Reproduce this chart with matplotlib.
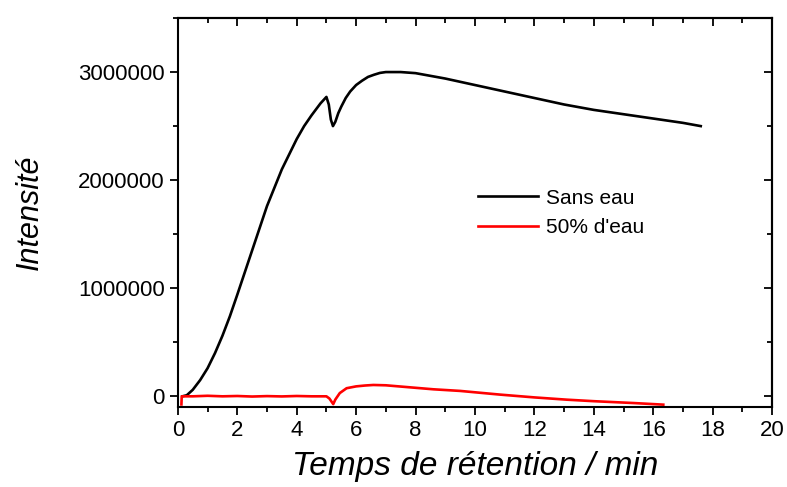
import matplotlib.pyplot as plt
from matplotlib.ticker import MultipleLocator

# Courbe noire : sans eau
t_sans = [0.15, 0.3, 0.5, 0.75, 1.0, 1.25, 1.5, 1.75, 2.0, 2.5, 3.0, 3.5, 4.0,
          4.25, 4.5, 4.8, 5.0, 5.08, 5.15, 5.22, 5.3, 5.4, 5.5, 5.65, 5.8, 6.0,
          6.2, 6.4, 6.6, 6.8, 7.0, 7.5, 8.0, 9.0, 10.0, 11.0, 12.0, 13.0, 14.0,
          15.0, 16.0, 17.0, 17.6]
i_sans = [0, 10000, 60000, 150000, 260000, 400000, 560000, 740000, 940000,
          1350000, 1760000, 2100000, 2380000, 2500000, 2600000, 2710000, 2770000,
          2700000, 2560000, 2500000, 2540000, 2620000, 2680000, 2760000, 2820000,
          2880000, 2920000, 2955000, 2975000, 2992000, 3000000, 3000000, 2990000,
          2940000, 2880000, 2820000, 2760000, 2700000, 2650000, 2610000, 2570000,
          2530000, 2500000]

# Courbe rouge : 50% d'eau
t_eau = [0.12, 0.13, 0.5, 1.0, 1.5, 2.0, 2.5, 3.0, 3.5, 4.0, 4.5, 5.0, 5.1, 5.23,
         5.3, 5.45, 5.68, 6.0, 6.3, 6.58, 7.0, 8.6, 9.5, 10.84, 12.0, 13.09, 14.0,
         15.33, 16.34]
i_eau = [-75000, 0, 0, 5000, 0, 3000, -2000, 2000, -1000, 3000, 0, 0, -20000,
         -72000, -30000, 30000, 75000, 92000, 100000, 105000, 102000, 65000, 50000,
         16000, -10000, -31000, -45000, -62000, -77000]

fig = plt.figure(figsize=(7.87, 4.87), dpi=100)
ax = fig.add_axes([0.226, 0.164, 0.755, 0.799])

ax.plot(t_sans, i_sans, color='black', lw=1.9, label='Sans eau')
ax.plot(t_eau, i_eau, color='red', lw=1.9, label="50% d'eau")

ax.set_xlim(0, 20)
ax.set_ylim(-100000, 3500000)
ax.xaxis.set_major_locator(MultipleLocator(2))
ax.xaxis.set_minor_locator(MultipleLocator(1))
ax.yaxis.set_major_locator(MultipleLocator(1000000))
ax.yaxis.set_minor_locator(MultipleLocator(500000))
ax.ticklabel_format(axis='y', style='plain', useOffset=False)

ax.tick_params(which='both', direction='out', top=False, right=False,
               labelsize=16, width=1.3, colors='black')
ax.tick_params(which='major', length=6)
ax.tick_params(which='minor', length=3.6)
for tl in ax.get_xticklabels() + ax.get_yticklabels():
    tl.set_fontfamily('Liberation Sans')

# graduations intérieures en haut et à droite
ax_top = ax.secondary_xaxis('top')
ax_top.xaxis.set_major_locator(MultipleLocator(2))
ax_top.xaxis.set_minor_locator(MultipleLocator(1))
ax_top.tick_params(which='both', direction='in', labeltop=False, width=1.3)
ax_top.tick_params(which='major', length=6)
ax_top.tick_params(which='minor', length=3.6)
ax_right = ax.secondary_yaxis('right')
ax_right.yaxis.set_major_locator(MultipleLocator(1000000))
ax_right.yaxis.set_minor_locator(MultipleLocator(500000))
ax_right.tick_params(which='both', direction='in', labelright=False, width=1.3)
ax_right.tick_params(which='major', length=6)
ax_right.tick_params(which='minor', length=3.6)

for s in ax.spines.values():
    s.set_linewidth(1.5)
ax_top.spines['top'].set_linewidth(1.5)
ax_right.spines['right'].set_linewidth(1.5)

ax.set_xlabel('Temps de rétention / min', fontsize=24, fontstyle='italic',
              family='Liberation Sans', labelpad=7)
ax.set_ylabel('Intensité', fontsize=22, fontstyle='italic',
              family='Liberation Sans', labelpad=24)

ax.legend(loc='upper left', bbox_to_anchor=(0.474, 0.61), frameon=False,
          handlelength=2.85, handletextpad=0.4, labelspacing=0.5,
          prop={'family': 'Liberation Sans', 'size': 15})

fig.savefig('out.png', dpi=100)
